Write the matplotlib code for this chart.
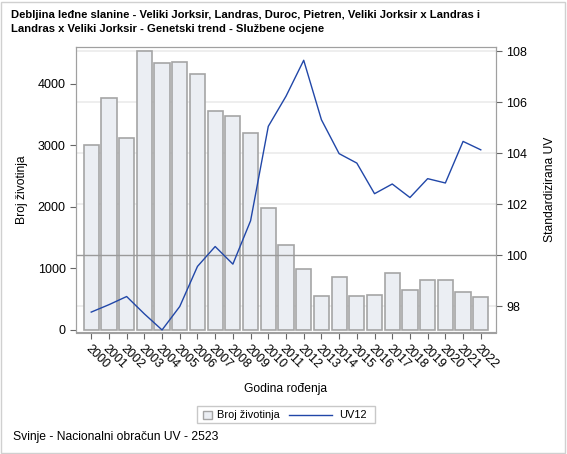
import matplotlib
matplotlib.use("Agg")
import matplotlib.pyplot as plt
from matplotlib.patches import Rectangle
from matplotlib.lines import Line2D
import numpy as np

plt.rcParams['font.family'] = ['Liberation Sans', 'DejaVu Sans']

# podaci
godine = [str(g) for g in range(2000, 2023)]
broj_zivotinja = [3003, 3762, 3117, 4526, 4336, 4352, 4163, 3556, 3474, 3192,
                  1978, 1377, 992, 558, 851, 547, 564, 916, 640, 808, 808, 623, 531]
uv12 = [97.78, 98.07, 98.39, 97.71, 97.08, 98.00, 99.57, 100.35, 99.66, 101.36,
        105.06, 106.24, 107.65, 105.32, 103.99, 103.62, 102.42, 102.80, 102.27,
        103.01, 102.84, 104.47, 104.14]
desni_ticks = [98, 100, 102, 104, 106, 108]
lijevi_ticks = [0, 1000, 2000, 3000, 4000]

BAR_FACE = "#EBEEF3"
BAR_EDGE = "#A5A5A5"
LINE_COL = "#2147A8"
SPINE = "#A0A0A0"

W, H = 567, 454

fig = plt.figure(figsize=(W / 100, H / 100), dpi=100)
ax = fig.add_axes([76 / W, 1 - 332.5 / H, 420 / W, 285.5 / H])
ax2 = ax.twinx()

x = np.arange(len(godine))

# gridlines prema desnoj osi (iza stupaca)
lo_l, hi_l = -43, 4596
lo_r, hi_r = 96.98, 108.17
ax2.set_ylim(lo_r, hi_r)
for t in desni_ticks:
    if t == 100:
        continue
    ax.axhline((t - lo_r) / (hi_r - lo_r) * (hi_l - lo_l) + lo_l,
               color="#EBEBEB", lw=1.2, zorder=0)

ax.bar(x, broj_zivotinja, width=0.86, color=BAR_FACE, edgecolor=BAR_EDGE,
       linewidth=1.2, zorder=2)
ax.set_ylim(lo_l, hi_l)
ax.set_xlim(-0.86, 22.86)
ax.set_yticks(lijevi_ticks)

ax2.axhline(100, color="#9A9A9A", lw=1.0, zorder=1)
ax2.plot(x, uv12, color=LINE_COL, lw=1.0, zorder=3)
ax2.set_yticks(desni_ticks)

ax.set_xticks(x)
ax.set_xticklabels(godine, rotation=-45, ha="left", va="top",
                   rotation_mode="anchor", fontsize=9)

for a in (ax, ax2):
    for s in a.spines.values():
        s.set_color(SPINE)
    a.tick_params(colors="#666666", labelcolor="black", labelsize=9,
                  length=4, width=0.8)
ax.tick_params(axis="x", pad=3)

ax.set_ylabel("Broj životinja", fontsize=8.7, labelpad=7)
ax2.set_ylabel("Standardizirana UV", fontsize=8.7, labelpad=12)
ax.set_xlabel("Godina rođenja", fontsize=8.7, labelpad=9)

fig.text(11 / W, 1 - 9.5 / H,
         "Debljina leđne slanine - Veliki Jorksir, Landras, Duroc, Pietren, Veliki Jorksir x Landras i\n"
         "Landras x Veliki Jorksir - Genetski trend - Službene ocjene",
         fontsize=8.1, fontweight="bold", ha="left", va="top", linespacing=1.6)

fig.text(13 / W, 1 - 437 / H, "Svinje - Nacionalni obračun UV - 2523",
         fontsize=8.7, ha="left", va="center")

# legenda, rucno nacrtana (kao u SAS-u)
tf = fig.transFigure
ly = 1 - 414.5 / H
fig.patches.append(Rectangle((197 / W, 1 - 423 / H), 178 / W, 17 / H,
                             transform=tf, fill=False, edgecolor="#C8C8C8", lw=1))
fig.patches.append(Rectangle((203 / W, 1 - 419 / H), 8.5 / W, 8.5 / H,
                             transform=tf, facecolor=BAR_FACE,
                             edgecolor=BAR_EDGE, lw=1))
fig.text(217 / W, ly, "Broj životinja", fontsize=7.9, ha="left", va="center")
fig.lines.append(Line2D([289 / W, 332 / W], [ly, ly], transform=tf,
                        color=LINE_COL, lw=1))
fig.text(339 / W, ly, "UV12", fontsize=7.9, ha="left", va="center")

# okvir slike
fig.patches.append(Rectangle((1 / W, 1 / H), 564 / W, 451 / H,
                             transform=tf, fill=False,
                             edgecolor="#D0D0D0", lw=1))

fig.savefig("out.png", dpi=100)
